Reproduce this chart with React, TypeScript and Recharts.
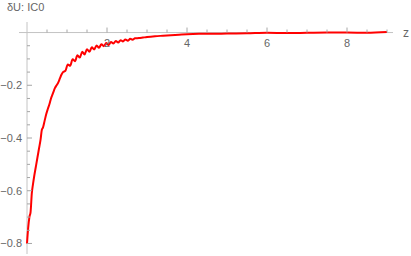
import { LineChart, Line, XAxis, YAxis, ReferenceLine } from 'recharts'

const zValues = [
  0, 0.03, 0.06, 0.09, 0.12, 0.15, 0.18, 0.22, 0.26, 0.3, 0.34, 0.37, 0.4, 0.44, 0.48, 0.52, 0.56, 0.6, 0.65, 0.7, 0.74, 0.78, 0.82, 0.86,
  0.9, 0.96, 1.02, 1.08, 1.14, 1.2, 1.26, 1.32, 1.38, 1.44, 1.5, 1.56, 1.62, 1.68, 1.74, 1.8, 1.86, 1.92, 1.98,
  2.04, 2.1, 2.16, 2.22, 2.28, 2.34, 2.4, 2.46, 2.52, 2.58, 2.64, 2.7, 2.8, 2.9, 3.0, 3.2, 3.4, 3.6, 3.8,
  4.0, 4.3, 4.6, 5.0, 5.5, 6.0, 6.5, 7.0, 7.5, 8.0, 8.5, 9.0,
]
const dUValues = [
  -0.8, -0.74, -0.7, -0.68, -0.61, -0.575, -0.545, -0.51, -0.475, -0.44, -0.405, -0.37, -0.36, -0.335, -0.31, -0.29, -0.272, -0.25, -0.23, -0.21, -0.2, -0.19, -0.175, -0.16,
  -0.15, -0.145, -0.121, -0.126, -0.101, -0.109, -0.086, -0.095, -0.073, -0.083, -0.063, -0.073, -0.056, -0.064, -0.049, -0.058, -0.044, -0.052, -0.04,
  -0.047, -0.036, -0.042, -0.032, -0.038, -0.029, -0.034, -0.026, -0.031, -0.024, -0.027, -0.022, -0.021, -0.019, -0.017, -0.014, -0.012, -0.01, -0.008,
  -0.006, -0.005, -0.005, -0.004, -0.003, -0.001, -0.002, -0.001, 0, 0, -0.001, 0.002,
]
const xTicks = [0.5, 1, 1.5, 2, 2.5, 3, 3.5, 4, 4.5, 5, 5.5, 6, 6.5, 7, 7.5, 8, 8.5, 9]
const xLabels = [2, 4, 6, 8]
const yTicks = [-0.05, -0.1, -0.15, -0.2, -0.25, -0.3, -0.35, -0.4, -0.45, -0.5, -0.55, -0.6, -0.65, -0.7, -0.75, -0.8]
const yLabels = [-0.2, -0.4, -0.6, -0.8]

const data = zValues.map((z, i) => ({ z, dU: dUValues[i] }))

const W = 411
const H = 256
const xAxisHeight = 1
const margin = { top: 22, right: 18, bottom: 1, left: 0 }
const yAxisWidth = 19
const xDomain: [number, number] = [-0.2, 9.15]
const yDomain: [number, number] = [-0.84, 0.04]

// where the axes cross (z = 0, dU = 0), in pixels
const plotW = W - margin.left - margin.right - yAxisWidth
const plotH = H - margin.top - margin.bottom - xAxisHeight
const X0 = margin.left + yAxisWidth + ((0 - xDomain[0]) / (xDomain[1] - xDomain[0])) * plotW
const Y0 = margin.top + ((yDomain[1] - 0) / (yDomain[1] - yDomain[0])) * plotH

const labelColor = '#666'
const tickColor = '#a6a6a6'
const axisColor = '#c4c4c4'
const font = '"Liberation Sans", Arial, sans-serif'

const fmt = (v: number) => (v < 0 ? '\u2212' : '') + Math.abs(v).toFixed(1)

function XTick(props: any) {
  const v = props.payload.value
  const major = xLabels.includes(v)
  return <g>
    <line x1={props.x} x2={props.x} y1={Y0} y2={Y0 - (major ? 5 : 3)} stroke={tickColor} />
    {major && <text x={props.x} y={Y0 + 14} textAnchor="middle" fontSize={11} fontFamily={font} fill={labelColor}>{v}</text>}
  </g>
}

function YTick(props: any) {
  const v = props.payload.value
  const major = yLabels.some((l) => Math.abs(l - v) < 1e-9)
  return <g>
    <line x1={X0} x2={X0 + (major ? 5 : 3)} y1={props.y} y2={props.y} stroke={tickColor} />
    {major && <text x={X0 - 5} y={props.y} dy="0.35em" textAnchor="end" fontSize={11} fontFamily={font} fill={labelColor}>{fmt(v)}</text>}
  </g>
}

export default function App() {
  return <div style={{ position: 'absolute', left: 0, top: 0, width: W, height: H, background: '#fff' }}>
    <div style={{ position: 'absolute', left: 7, top: 1, fontFamily: font, fontSize: 11, color: labelColor, whiteSpace: 'nowrap' }}>δU: IC0</div>
    <LineChart width={W} height={H} data={data} margin={margin}>
      <XAxis type="number" dataKey="z" domain={xDomain} ticks={xTicks} interval={0} height={xAxisHeight} axisLine={false} tickLine={false} tick={XTick} allowDataOverflow />
      <YAxis type="number" domain={yDomain} ticks={yTicks} interval={0} width={yAxisWidth} axisLine={false} tickLine={false} tick={YTick} allowDataOverflow />
      <ReferenceLine x={0} stroke={axisColor} />
      <ReferenceLine y={0} stroke={axisColor} label={{ value: 'z', position: 'right', offset: 10, fill: labelColor, fontSize: 12, fontFamily: font }} />
      <Line type="monotone" dataKey="dU" stroke="#ff0000" strokeWidth={2} dot={false} isAnimationActive={false} />
    </LineChart>
  </div>
}
